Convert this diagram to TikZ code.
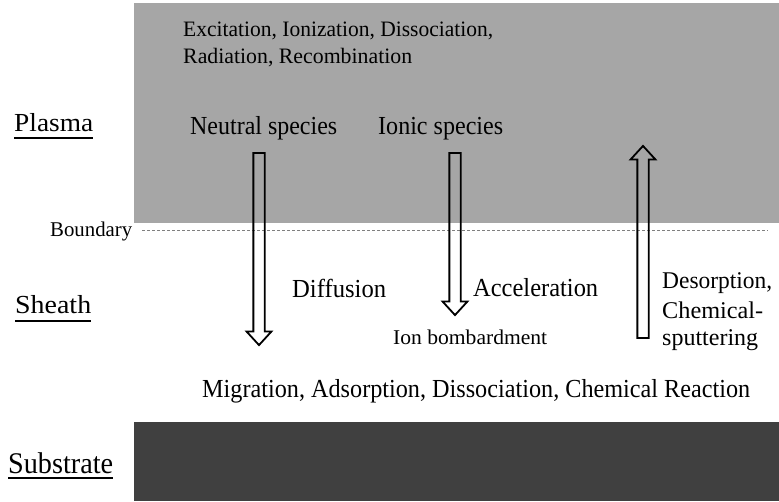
\documentclass[tikz,border=0pt]{standalone}
\usepackage{fontspec}
\setmainfont{Liberation Serif}
\usepackage{graphicx}
\usetikzlibrary{shapes.arrows,calc}
\definecolor{plasmagray}{HTML}{A6A6A6}
\definecolor{subdark}{HTML}{404040}
\definecolor{dashgray}{HTML}{7F7F7F}
\newcommand\fitw[2]{\resizebox{#1}{\height}{#2}}
\begin{document}
\begin{tikzpicture}[x=1pt,y=-1pt,
  txt/.style={inner sep=0pt, anchor=base west, text=black},
  fa/.style={txt, font=\fontsize{22}{26}\selectfont},
  fb/.style={txt, font=\fontsize{26}{30}\selectfont},
  fc/.style={txt, font=\fontsize{21}{25}\selectfont},
  fd/.style={txt, font=\fontsize{24}{28}\selectfont},
  fe/.style={txt, font=\fontsize{30}{34}\selectfont},
  ul/.style={line width=1.6pt, black},
  bline/.style={dashgray, line width=1pt, dash pattern=on 3pt off 2pt},
  hollow/.style={single arrow, draw=black, line width=1.8pt, minimum width=23pt,
    single arrow head extend=6.75pt, single arrow tip angle=85, inner sep=4.75pt}]
\useasboundingbox (0,0) rectangle (779,501);
% regions
\fill[plasmagray] (134,3) rectangle (779,223);
\fill[subdark] (134,422) rectangle (779,501);
% boundary
\node[fc] (bd) at (50,236) {\fitw{82pt}{Boundary}};
\coordinate (bl) at (142,230);
\coordinate (br) at (768,230);
\draw[bline] (bl) -- (br);
% region labels
\node[fb] (pl) at (14,131) {\fitw{79pt}{Plasma}};
\node[fb] (sh) at (15,313) {\fitw{76pt}{Sheath}};
\node[fe] (sub) at (8,473) {\fitw{105pt}{Substrate}};
\draw[ul] ($(pl.base west)+(0,7)$) -- ($(pl.base east)+(0,7)$);
\draw[ul] ($(sh.base west)+(0,8)$) -- ($(sh.base east)+(0,8)$);
\draw[ul] ($(sub.base west)+(0,5)$) -- ($(sub.base east)+(0,5)$);
% plasma texts
\node[fa] (exc) at (183,36) {\fitw{310pt}{Excitation, Ionization, Dissociation,}};
\node[fa] (rad) at (183,63) {\fitw{229pt}{Radiation, Recombination}};
\node[fb] (neu) at (190,134) {\fitw{147pt}{Neutral species}};
\node[fb] (ion) at (378,134) {\fitw{125pt}{Ionic species}};
% arrows
\node[hollow, rotate=-90, minimum height=192pt] (arrN) at (259,246) {};
\node[hollow, rotate=-90, minimum height=162pt] (arrI) at (455,231) {};
\node[hollow, rotate=90, minimum height=192pt] (arrD) at (643,245) {};
% sheath texts
\node[fb] (dif) at (292,297) {\fitw{94pt}{Diffusion}};
\node[fb] (acc) at (473,296) {\fitw{125pt}{Acceleration}};
\node[fc] (bomb) at (393,344) {\fitw{154pt}{Ion bombardment}};
\node[fd] (des1) at (662,288) {\fitw{110pt}{Desorption,}};
\node[fd] (des2) at (662,318) {\fitw{101pt}{Chemical-}};
\node[fd] (des3) at (662,345) {\fitw{96pt}{sputtering}};
\node[fb] (mig) at (202,397) {\fitw{548pt}{Migration, Adsorption, Dissociation, Chemical Reaction}};
\end{tikzpicture}
\end{document}
